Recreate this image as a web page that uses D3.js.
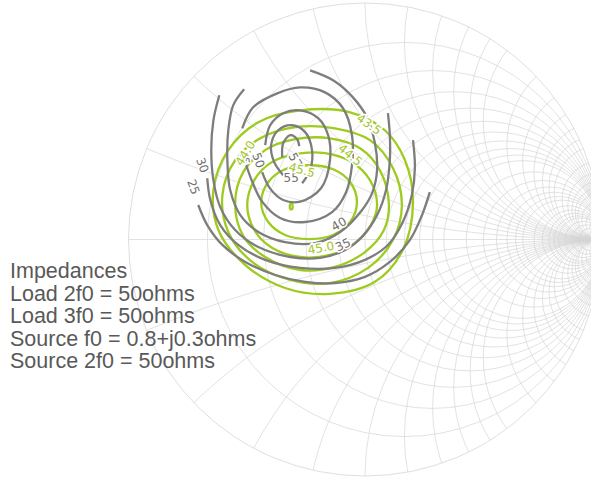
<!DOCTYPE html>
<html><head><meta charset="utf-8">
<script src="https://cdn.jsdelivr.net/npm/d3@7"></script>
<style>html,body{margin:0;padding:0;background:#fff;} svg{display:block;}</style>
</head><body>
<script>
// ---- Smith chart grid values ----
const resistanceValues = [0.2,0.4,0.6,0.8,1,1.2,1.4,1.6,1.8,2,2.5,3,3.5,4,4.5,5,6,7,8,9,10,12,15,20,30,50];
const reactanceValues  = [0.2,0.4,0.6,0.8,1,1.2,1.4,1.6,1.8,2,2.5,3,3.5,4,4.5,5,6,7,8,9,10,12,15,20,30,50];

// ---- PAE contours (%), reflection coefficient [re, im] ----
const paeLevels = [25,30,35,40,45,50,55,57];
const pae25 = [[-0.705,0.146],[-0.667,0.061],[-0.603,-0.023],[-0.506,-0.095],[-0.380,-0.150],[-0.253,-0.179],[-0.127,-0.184],[0,-0.158],[0.105,-0.095],[0.190,-0.002],[0.241,0.103],[0.274,0.200]];
const pae30 = [[-0.667,0.259],[-0.654,0.167],[-0.612,0.061],[-0.536,-0.023],[-0.422,-0.086],[-0.274,-0.120],[-0.127,-0.120],[0,-0.086],[0.097,-0.023],[0.160,0.074],[0.198,0.188],[0.211,0.302],[0.203,0.420]];
const pae35 = [[-0.616,0.610],[-0.641,0.504],[-0.650,0.378],[-0.641,0.251],[-0.612,0.137],[-0.549,0.040],[-0.451,-0.032],[-0.316,-0.074],[-0.190,-0.078],[-0.084,-0.044],[-0.013,0.011],[0.051,0.103],[0.089,0.209],[0.105,0.335],[0.105,0.441],[0.097,0.534]];
const pae40 = [[-0.511,0.635],[-0.557,0.568],[-0.578,0.462],[-0.582,0.335],[-0.570,0.209],[-0.527,0.103],[-0.451,0.032],[-0.338,-0.011],[-0.211,-0.015],[-0.105,0.032],[-0.013,0.124],[0.030,0.196],[0.051,0.293],[0.042,0.407],[0.008,0.517],[-0.051,0.601],[-0.135,0.673],[-0.232,0.715]];
const pae45 = [[-0.519,0.470],[-0.473,0.559],[-0.371,0.618],[-0.274,0.643],[-0.169,0.622],[-0.093,0.555],[-0.055,0.441],[-0.055,0.314],[-0.080,0.200],[-0.139,0.116],[-0.253,0.074],[-0.359,0.091],[-0.435,0.160],[-0.477,0.245],[-0.502,0.314]];
const pae50 = [[-0.422,0.399],[-0.401,0.483],[-0.346,0.534],[-0.274,0.546],[-0.198,0.513],[-0.156,0.441],[-0.148,0.335],[-0.186,0.217],[-0.274,0.160],[-0.346,0.167],[-0.401,0.215],[-0.435,0.285]];
const pae55 = [[-0.346,0.272],[-0.384,0.327],[-0.397,0.399],[-0.367,0.462],[-0.308,0.483],[-0.253,0.454],[-0.224,0.378],[-0.232,0.293],[-0.266,0.238]];
const pae57 = [[-0.350,0.348],[-0.346,0.407],[-0.316,0.441],[-0.287,0.424],[-0.278,0.395]];
const paeLabels = [["25",-0.726,0.222,70],["30",-0.688,0.314,70],["35",-0.093,-0.023,-25],["40",-0.110,0.065,-30],["45",-0.511,0.348,80],["50",-0.451,0.335,70],["55",-0.312,0.259,0],["57",-0.295,0.335,60]];

// ---- Pout contours (dBm) ----
const poutLevels = [43.5,44.0,44.5,45.0,45.5,46.0];
const pout435 = [[0.203,0.158],[0.169,0.335],[0.084,0.462],[-0.063,0.538],[-0.274,0.546],[-0.451,0.496],[-0.578,0.378],[-0.641,0.209],[-0.620,0.040],[-0.506,-0.108],[-0.338,-0.205],[-0.148,-0.230],[0.042,-0.179],[0.160,-0.044]];
const pout440 = [[0.156,0.146],[0.118,0.302],[0.021,0.420],[-0.127,0.470],[-0.295,0.475],[-0.443,0.428],[-0.549,0.335],[-0.603,0.188],[-0.578,0.032],[-0.477,-0.095],[-0.316,-0.171],[-0.148,-0.184],[0.013,-0.120],[0.118,-0.002]];
const pout445 = [[0.101,0.150],[0.063,0.293],[-0.021,0.386],[-0.148,0.428],[-0.295,0.424],[-0.422,0.378],[-0.515,0.285],[-0.549,0.150],[-0.515,0.015],[-0.422,-0.074],[-0.274,-0.129],[-0.127,-0.116],[0,-0.053],[0.080,0.040]];
const pout450 = [[0.051,0.146],[0.021,0.251],[-0.055,0.327],[-0.169,0.365],[-0.295,0.361],[-0.401,0.323],[-0.468,0.251],[-0.498,0.146],[-0.468,0.040],[-0.392,-0.036],[-0.274,-0.074],[-0.148,-0.065],[-0.042,-0.015],[0.025,0.061]];
const pout455 = [[-0.034,0.158],[-0.063,0.243],[-0.135,0.297],[-0.236,0.314],[-0.338,0.297],[-0.409,0.243],[-0.439,0.158],[-0.409,0.074],[-0.338,0.019],[-0.236,0.002],[-0.135,0.019],[-0.063,0.074]];
const pout460 = [[-0.308,0.150],[-0.306,0.139],[-0.308,0.129],[-0.316,0.129],[-0.318,0.139],[-0.316,0.150]];
const poutLabels = [["43.5",0.017,0.487,35],["44.0",-0.506,0.365,-58],["44.5",-0.063,0.357,40],["45.0",-0.186,-0.036,-10],["45.5",-0.267,0.293,15]];

const infoLines = ["Impedances","Load 2f0 = 50ohms","Load 3f0 = 50ohms","Source f0 = 0.8+j0.3ohms","Source 2f0 = 50ohms"];

// ---- drawing ----
const W = 591, H = 477;
const cx = 365, cy = 239.5, R = 236.5;
const xs = d3.scaleLinear().domain([-1,1]).range([cx-R, cx+R]);
const ys = d3.scaleLinear().domain([-1,1]).range([cy+R, cy-R]);
const rs = d3.scaleLinear().domain([0,1]).range([0,R]);

const svg = d3.select("body").append("svg").attr("width",W).attr("height",H);
svg.append("defs").append("clipPath").attr("id","unit")
  .append("circle").attr("cx",xs(0)).attr("cy",ys(0)).attr("r",rs(1));

const grid = svg.append("g").attr("clip-path","url(#unit)")
  .attr("fill","none").attr("stroke","#d6d6d6").attr("stroke-width",0.7);
grid.selectAll("circle.r").data(resistanceValues).join("circle")
  .attr("cx",r=>xs(r/(1+r))).attr("cy",ys(0)).attr("r",r=>rs(1/(1+r)));
const xAll = reactanceValues.flatMap(v=>[v,-v]);
grid.selectAll("circle.x").data(xAll).join("circle")
  .attr("cx",xs(1)).attr("cy",v=>ys(1/v)).attr("r",v=>rs(1/Math.abs(v)));
grid.append("line").attr("x1",xs(-1)).attr("x2",xs(1)).attr("y1",ys(0)).attr("y2",ys(0));
svg.append("circle").attr("cx",xs(0)).attr("cy",ys(0)).attr("r",rs(1))
  .attr("fill","none").attr("stroke","#d6d6d6").attr("stroke-width",0.8);

const line = d3.line().x(d=>xs(d[0])).y(d=>ys(d[1])).curve(d3.curveCatmullRom.alpha(0.5));
const lineClosed = d3.line().x(d=>xs(d[0])).y(d=>ys(d[1])).curve(d3.curveCatmullRomClosed.alpha(0.5));

const poutSets = [pout435,pout440,pout445,pout450,pout455,pout460];
const paeSets = [pae25,pae30,pae35,pae40,pae45,pae50,pae55,pae57];

const green = "#9dcb1e", gray = "#7d7d7d";
svg.append("g").selectAll("path").data(poutSets).join("path")
  .attr("d",lineClosed).attr("fill","none").attr("stroke",green).attr("stroke-width",2.3);
svg.append("g").selectAll("path").data(paeSets).join("path")
  .attr("d",line).attr("fill","none").attr("stroke",gray).attr("stroke-width",2.3);

function labels(data,color){
  svg.append("g").selectAll("text").data(data).join("text")
    .attr("transform",d=>`translate(${xs(d[1])},${ys(d[2])}) rotate(${d[3]})`)
    .attr("text-anchor","middle").attr("dominant-baseline","central")
    .attr("font-family","'DejaVu Sans', sans-serif").attr("font-size",12)
    .attr("fill",color).attr("stroke","#fff").attr("stroke-width",3).attr("paint-order","stroke")
    .text(d=>d[0]);
}
labels(paeLabels,"#6f6f6f");
labels(poutLabels,"#a2c62a");

svg.append("g").selectAll("text").data(infoLines).join("text")
  .attr("x",10).attr("y",(d,i)=>278+i*22.6)
  .attr("font-family","'Liberation Sans', Arial, sans-serif").attr("font-size",21.5)
  .attr("fill","#595959").text(d=>d);
</script>
</body></html>
